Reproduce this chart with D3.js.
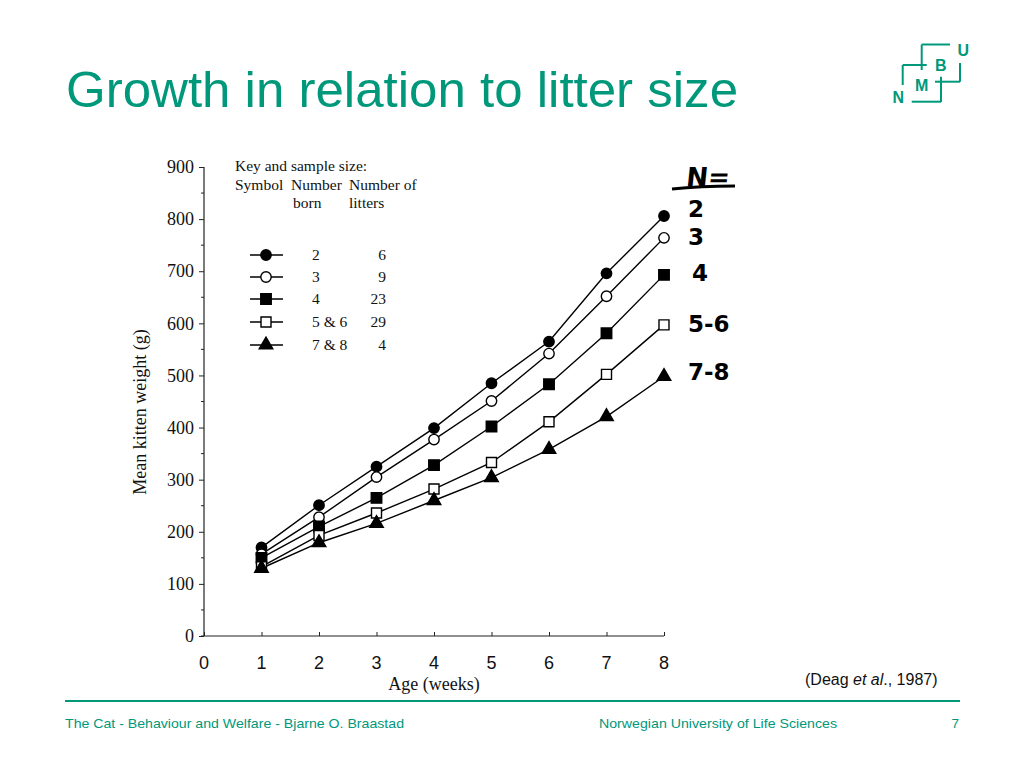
<!DOCTYPE html>
<html><head><meta charset="utf-8">
<script src="https://cdn.jsdelivr.net/npm/d3@7"></script>
<style>body{margin:0;background:#fff}svg{display:block}</style>
</head><body>
<svg id="c" width="1024" height="768"></svg>
<script>
const weeks = [1,2,3,4,5,6,7,8];
const born2 = [170,251,325,399,485,565,696,806];
const born3 = [157,228,305,377,451,542,652,764];
const born4 = [150,210,265,328,402,483,581,693];
const born56 = [133,193,236,282,333,411,502,597];
const born78 = [130,179,216,260,304,358,421,498];
const seriesNames = ["2","3","4","5 & 6","7 & 8"];
const litterCounts = ["6","9","23","29","4"];
const handLabels = ["2","3","4","5-6","7-8"];
const xTicks = [0,1,2,3,4,5,6,7,8];
const yTicks = [0,100,200,300,400,500,600,700,800,900];

const teal = "#00987a";
const svg = d3.select("#c");
const serif = "'Liberation Serif','Times New Roman',serif";
const sans = "'Liberation Sans',Arial,Helvetica,sans-serif";

// Title
svg.append("text").attr("x",66).attr("y",107).attr("fill",teal)
  .attr("font-family",sans).attr("font-size",50)
  .attr("textLength",672).attr("lengthAdjust","spacingAndGlyphs")
  .text("Growth in relation to litter size");

// Logo
const lg = svg.append("g").attr("stroke",teal).attr("stroke-width",2).attr("fill","none");
[[950,44.5,921.7,44.5],[921.7,44.5,921.7,70],[902.7,65,926.7,65],[902.7,65,902.7,85],
 [960,63,960,81.7],[935,81.7,960,81.7],[941,76.7,941,102],[911.7,101.7,941,101.7]]
 .forEach(l=>lg.append("line").attr("x1",l[0]).attr("y1",l[1]).attr("x2",l[2]).attr("y2",l[3]));
[["B",940.7,71],["U",963.3,56],["M",921.7,90.5],["N",898.3,103]].forEach(t=>
  svg.append("text").attr("x",t[1]).attr("y",t[2]).attr("text-anchor","middle")
   .attr("fill",teal).attr("font-family",sans).attr("font-weight","bold").attr("font-size",16).text(t[0]));

// Scales
const x = d3.scaleLinear().domain([0,8]).range([204,664]);
const y = d3.scaleLinear().domain([0,900]).range([636,167]);

// Axes
const ax = svg.append("g").attr("font-family",serif);
const yAxis = d3.axisLeft(y).tickValues(yTicks).tickSize(5).tickPadding(5);
const yg = ax.append("g").attr("transform","translate(204,0)").call(yAxis);
yg.select(".domain").attr("stroke","#222").attr("stroke-width",1.2).attr("d","M0,"+y(900)+"V"+y(0));
yg.selectAll(".tick line").attr("stroke","#222");
yg.selectAll(".tick text").attr("font-size",18).attr("font-family",serif).attr("fill","#111");
const yMinor = d3.range(50,900,100);
yg.selectAll(".minor").data(yMinor).join("line").attr("class","minor")
  .attr("x1",-3).attr("x2",0).attr("y1",d=>y(d)).attr("y2",d=>y(d)).attr("stroke","#222");

const xAxis = d3.axisTop(x).tickValues(xTicks).tickSize(4).tickFormat("");
const xg = ax.append("g").attr("transform","translate(0,"+y(0)+")").call(xAxis);
xg.select(".domain").attr("stroke","#222").attr("stroke-width",1.2).attr("d","M"+(x(0)-3)+",0H"+x(8));
xg.selectAll(".tick line").attr("stroke","#222");
xg.selectAll(".xl").data(xTicks).join("text").attr("class","xl")
  .attr("x",d=>x(d)).attr("y",33).attr("text-anchor","middle")
  .attr("font-size",18).attr("fill","#111").text(d=>d);

ax.append("text").attr("x",x(4)).attr("y",690).attr("text-anchor","middle")
  .attr("font-size",18).attr("fill","#111").text("Age (weeks)");
ax.append("text").attr("transform","translate(146,"+y(430)+") rotate(-90)")
  .attr("text-anchor","middle").attr("font-size",18).attr("fill","#111").text("Mean kitten weight (g)");

// Series
const series = [born2,born3,born4,born56,born78];
const shapes = [
  {t:d3.symbolCircle,s:85,fill:"#000"},
  {t:d3.symbolCircle,s:85,fill:"#fff"},
  {t:d3.symbolSquare,s:110,fill:"#000"},
  {t:d3.symbolSquare,s:100,fill:"#fff"},
  {t:d3.symbolTriangle,s:80,fill:"#000"}
];
const line = d3.line().x((d,i)=>x(weeks[i])).y(d=>y(d));
series.forEach((s,k)=>{
  svg.append("path").attr("d",line(s)).attr("fill","none").attr("stroke","#000").attr("stroke-width",1.4);
});
series.forEach((s,k)=>{
  const sh = shapes[k];
  svg.append("g").selectAll("path").data(s).join("path")
    .attr("transform",(d,i)=>"translate("+x(weeks[i])+","+y(d)+")")
    .attr("d",d3.symbol().type(sh.t).size(sh.s))
    .attr("fill",sh.fill).attr("stroke","#000").attr("stroke-width",1.4);
});

// Legend
const leg = svg.append("g").attr("font-family",serif).attr("font-size",15.5).attr("fill","#111");
leg.append("text").attr("x",235).attr("y",171).text("Key and sample size:");
leg.append("text").attr("x",235).attr("y",190).text("Symbol");
leg.append("text").attr("x",291).attr("y",190).text("Number");
leg.append("text").attr("x",349).attr("y",190).text("Number of");
leg.append("text").attr("x",293).attr("y",208).text("born");
leg.append("text").attr("x",349).attr("y",208).text("litters");
const rowY = [255,277,299,322,345];
seriesNames.forEach((n,k)=>{
  const ry = rowY[k];
  leg.append("line").attr("x1",250).attr("x2",283).attr("y1",ry).attr("y2",ry).attr("stroke","#000").attr("stroke-width",1.4);
  leg.append("path").attr("transform","translate(266,"+ry+")")
    .attr("d",d3.symbol().type(shapes[k].t).size(shapes[k].s)).attr("fill",shapes[k].fill)
    .attr("stroke","#000").attr("stroke-width",1.4);
  leg.append("text").attr("x",312).attr("y",ry+5).text(n);
  leg.append("text").attr("x",386).attr("y",ry+5).attr("text-anchor","end").text(litterCounts[k]);
});

// Handwritten annotations
const hw = svg.append("g").attr("font-family","'DejaVu Sans',sans-serif").attr("font-weight","bold").attr("fill","#000");
hw.append("text").attr("x",686).attr("y",186).attr("font-size",26).attr("transform","skewX(-6) translate(19,0)").text("N=");
hw.append("path").attr("d","M672,189 Q700,186 735,186").attr("stroke","#000").attr("stroke-width",3).attr("fill","none");
const hwOff = [[24,1],[24,7],[28,6],[24,7],[24,4]];
handLabels.forEach((t,k)=>{
  const s = series[k];
  hw.append("text").attr("x",x(8)+hwOff[k][0]).attr("y",y(s[s.length-1])+hwOff[k][1])
    .attr("font-size",23).text(t);
});

// Citation
const cit = svg.append("text").attr("x",805).attr("y",685).attr("font-family",sans).attr("font-size",16)
  .attr("fill","#111");
cit.append("tspan").text("(Deag ");
cit.append("tspan").attr("font-style","italic").text("et al");
cit.append("tspan").text("., 1987)");

// Footer
svg.append("line").attr("x1",65).attr("x2",960).attr("y1",701).attr("y2",701).attr("stroke",teal).attr("stroke-width",2);
const ft = svg.append("g").attr("font-family",sans).attr("font-size",13.5).attr("fill",teal);
ft.append("text").attr("x",65).attr("y",728).attr("textLength",339).attr("lengthAdjust","spacingAndGlyphs")
  .text("The Cat - Behaviour and Welfare - Bjarne O. Braastad");
ft.append("text").attr("x",599).attr("y",728).attr("textLength",238).attr("lengthAdjust","spacingAndGlyphs")
  .text("Norwegian University of Life Sciences");
ft.append("text").attr("x",959).attr("y",728).attr("text-anchor","end").text("7");
</script>
</body></html>
